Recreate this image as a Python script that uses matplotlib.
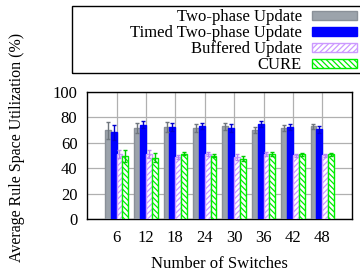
import matplotlib
matplotlib.use('Agg')
import matplotlib.pyplot as plt
from matplotlib.patches import Rectangle
import numpy as np

plt.rcParams['font.family'] = ['Liberation Serif', 'DejaVu Serif']
plt.rcParams['hatch.linewidth'] = 0.9

switches = ['6', '12', '18', '24', '30', '36', '42', '48']
two_phase = [69.8, 71.7, 72.4, 71.7, 73.0, 69.8, 71.9, 73.0]
two_phase_err = [6.5, 4.0, 3.7, 3.0, 2.6, 2.4, 2.4, 2.1]
timed = [68.2, 74.3, 72.4, 73.2, 71.4, 74.5, 72.4, 70.6]
timed_err = [6.0, 3.0, 3.4, 2.6, 3.0, 2.4, 2.1, 2.6]
buffered = [51.2, 51.2, 48.8, 51.2, 49.1, 51.2, 50.1, 50.1]
buffered_err = [3.0, 3.0, 1.6, 1.8, 2.4, 1.6, 1.3, 1.3]
cure = [49.9, 48.3, 51.4, 49.9, 47.5, 51.2, 50.9, 50.9]
cure_err = [4.7, 3.4, 1.3, 1.0, 1.8, 1.3, 1.0, 1.3]

fig = plt.figure(figsize=(3.6, 2.73), dpi=100)
ax = fig.add_axes([0.242, 0.198, 0.735, 0.465])

x = np.arange(len(switches))
w = 0.2

series = [
    ('Two-phase Update', two_phase, two_phase_err, '#9ca3ab', '#8a9098', None, '#6e757c'),
    ('Timed Two-phase Update', timed, timed_err, '#0000ff', '#0000ff', None, '#0000cc'),
    ('Buffered Update', buffered, buffered_err, 'white', '#cc99ff', '//////', '#bb88ee'),
    ('CURE', cure, cure_err, 'white', '#00ee00', '\\\\\\\\\\\\', '#00cc00'),
]

for i, (name, vals, errs, fc, ec, hatch, errc) in enumerate(series):
    pos = x + (i - 1.5) * w
    ax.bar(pos, vals, w, color=fc, edgecolor=ec, hatch=hatch, linewidth=1.0,
           label=name, zorder=3)
    ax.errorbar(pos, vals, yerr=errs, fmt='none', ecolor=errc, elinewidth=1.0,
                capsize=1.5, capthick=1.0, zorder=4)

ax.set_xlim(-1.0, len(switches))
ax.set_ylim(0, 100)
ax.set_xticks(x)
ax.set_xticklabels(switches, fontsize=12)
ax.set_yticks(range(0, 101, 20))
ax.tick_params(axis='y', labelsize=12, length=0, pad=7)
ax.tick_params(axis='x', length=0, pad=8)
ax.grid(True, color='#b0b0b0', linewidth=0.9, zorder=0)
ax.set_axisbelow(True)
for s in ax.spines.values():
    s.set_linewidth(1.0)

ax.set_xlabel('Number of Switches', fontsize=12, labelpad=7)
fig.text(0.047, 0.46, 'Average Rule Space Utilization (%)', rotation=90,
         fontsize=11.5, ha='center', va='center')

# legend box spans wider than its content, as in the original
fig.patches.append(Rectangle((0.2, 0.733), 0.81, 0.245, transform=fig.transFigure,
                             fill=False, edgecolor='black', linewidth=1.0))
leg = fig.legend(loc='upper right', bbox_to_anchor=(0.998, 0.975),
                 markerfirst=False, fontsize=12, frameon=False,
                 handlelength=2.7, handleheight=0.45,
                 borderpad=0.15, labelspacing=0.0, handletextpad=0.6,
                 borderaxespad=0)
for t in leg.get_texts():
    t.set_ha('right')

fig.savefig('out.png', dpi=100)
